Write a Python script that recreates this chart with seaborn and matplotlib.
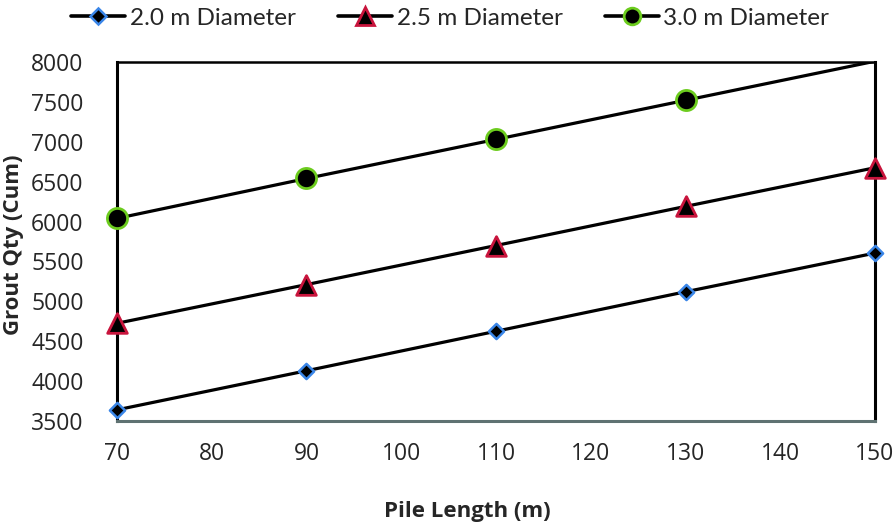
import matplotlib
matplotlib.use("Agg")
import matplotlib.pyplot as plt
from matplotlib.lines import Line2D
import seaborn as sns
import pandas as pd

pile_length = [70, 90, 110, 130, 150]
dia_20 = [3640, 4130, 4625, 5120, 5605]
dia_25 = [4725, 5210, 5700, 6190, 6675]
dia_30 = [6040, 6540, 7030, 7520, 8010]
series_names = ["2.0 m Diameter", "2.5 m Diameter", "3.0 m Diameter"]
x_ticks = [70, 80, 90, 100, 110, 120, 130, 140, 150]
y_ticks = [3500, 4000, 4500, 5000, 5500, 6000, 6500, 7000, 7500, 8000]
y_min, y_max = 3500, 8000

sns.set_theme(style="white")
plt.rcParams["font.family"] = ["Open Sans", "DejaVu Sans"]

fig = plt.figure(figsize=(8.95, 5.26), dpi=100)
ax = fig.add_axes([0.1307, 0.1996, 0.9777 - 0.1307, 0.8821 - 0.1996])

styles = [
    dict(marker="D", s=60, edge="#3a86e8", lw_edge=1.8, ms=8),
    dict(marker="^", s=200, edge="#c8143c", lw_edge=2.0, ms=13),
    dict(marker="o", s=210, edge="#6ccc1e", lw_edge=2.0, ms=12),
]
handles = []
for name, vals, st in zip(series_names, [dia_20, dia_25, dia_30], styles):
    df = pd.DataFrame({"x": pile_length, "y": vals})
    sns.lineplot(data=df, x="x", y="y", ax=ax, color="black", linewidth=2.3, zorder=2)
    inside = df[(df["y"] >= y_min) & (df["y"] <= y_max)]
    sns.scatterplot(data=inside, x="x", y="y", ax=ax, marker=st["marker"], s=st["s"],
                    color="black", edgecolor=st["edge"], linewidth=st["lw_edge"],
                    zorder=3, clip_on=False)
    handles.append(Line2D([0], [0], color="black", linewidth=2.6, marker=st["marker"],
                          markersize=st["ms"], markerfacecolor="black",
                          markeredgecolor=st["edge"], markeredgewidth=st["lw_edge"]))

ax.set_xlim(70, 150)
ax.set_ylim(y_min, y_max)
ax.set_xticks(x_ticks)
ax.set_yticks(y_ticks)
ax.tick_params(axis="both", labelsize=16.5, direction="in", length=6, width=1.5)
ax.tick_params(axis="x", color="#5f7272", pad=15)
ax.tick_params(axis="y", color="black", pad=24)
for lab in ax.get_yticklabels():
    lab.set_horizontalalignment("right")

for side in ["left", "right", "top"]:
    ax.spines[side].set_color("black")
    ax.spines[side].set_linewidth(2.2)
ax.spines["top"].set_linewidth(1.8)
ax.spines["bottom"].set_color("#5f7272")
ax.spines["bottom"].set_linewidth(2.2)

ax.set_xlabel("Pile Length (m)", fontsize=16, fontweight="bold")
ax.xaxis.set_label_coords(0.462, -0.222)
ax.set_ylabel("Grout Qty (Cum)", fontsize=16, fontweight="bold")
ax.yaxis.set_label_coords(-0.122, 0.49)

fig.legend(handles, series_names, loc="center", bbox_to_anchor=(0.503, 1 - 18 / 526),
           ncol=3, frameon=False, handlelength=2.22, columnspacing=1.73,
           handletextpad=0.2,
           prop={"family": ["Lato", "Open Sans"], "size": 17.5})

fig.savefig("out.png", dpi=100, facecolor="white")
